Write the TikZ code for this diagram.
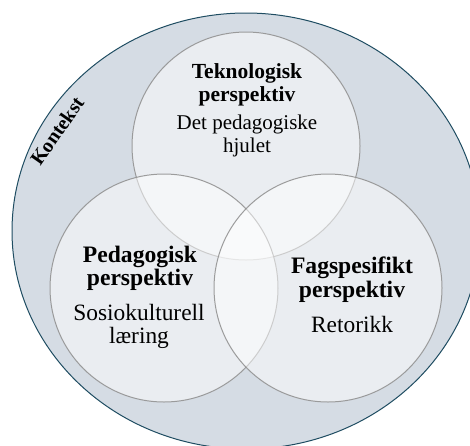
\documentclass[tikz,border=0pt]{standalone}
\usepackage{fontspec}
\setmainfont{Liberation Serif}
\definecolor{ctxfill}{HTML}{D5DCE4}
\definecolor{ctxline}{HTML}{1F4D62}
\definecolor{ringline}{HTML}{939393}
\tikzset{
  ctx/.style={fill=ctxfill, draw=ctxline, line width=1pt},
  persp/.style={fill=white, fill opacity=0.5, draw=ringline, draw opacity=0.9, line width=1pt},
  ttl/.style={font=\fontsize{21.5}{23}\selectfont\bfseries, inner sep=0pt, anchor=base, text opacity=1},
  sub/.style={font=\fontsize{21}{23}\selectfont, inner sep=0pt, anchor=base, text opacity=1},
  ttlb/.style={font=\fontsize{23.6}{25}\selectfont\bfseries, inner sep=0pt, anchor=base, text opacity=1},
  subb/.style={font=\fontsize{23.4}{25}\selectfont, inner sep=0pt, anchor=base, text opacity=1},
}
\begin{document}
\begin{tikzpicture}[x=1pt, y=-1pt]
\useasboundingbox (0,0) rectangle (470,445);
\begin{scope}
\clip (0,0) rectangle (470,445);
\path[ctx] (246,231) ellipse [x radius=234, y radius=218];
\end{scope}
\path[persp] (246,146) circle [radius=114];
\path[persp] (164,288) circle [radius=114];
\path[persp] (328,288) circle [radius=114];
% top
\node[ttl] (t1) at (247,78) {Teknologisk};
\node[ttl] (t2) at (247,101) {perspektiv};
\node[sub] (t3) at (247,129) {Det pedagogiske};
\node[sub] (t4) at (247,152) {hjulet};
% left
\node[ttlb] (l1) at (140,262) {Pedagogisk};
\node[ttlb] (l2) at (140,285) {perspektiv};
\node[subb] (l3) at (139,320) {Sosiokulturell};
\node[subb] (l4) at (139,343) {læring};
% right
\node[ttlb] (r1) at (352,273) {Fagspesifikt};
\node[ttlb] (r2) at (352,297) {perspektiv};
\node[subb] (r3) at (352,332) {Retorikk};
% context
\node[font=\fontsize{20}{22}\selectfont\bfseries, rotate=55, inner sep=0pt] (k) at (57,131) {Kontekst};
\end{tikzpicture}
\end{document}
